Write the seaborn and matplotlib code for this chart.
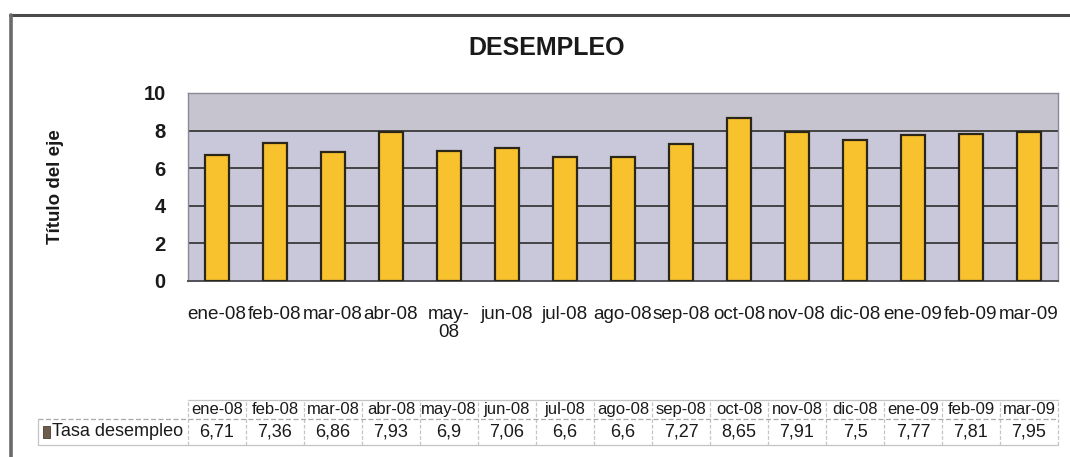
import matplotlib
matplotlib.use("Agg")
import matplotlib.pyplot as plt
from matplotlib.lines import Line2D
from matplotlib.patches import Rectangle
import seaborn as sns
import pandas as pd

# Monthly unemployment rate
months = ["ene-08", "feb-08", "mar-08", "abr-08", "may-08", "jun-08", "jul-08",
          "ago-08", "sep-08", "oct-08", "nov-08", "dic-08", "ene-09", "feb-09", "mar-09"]
rates = [6.71, 7.36, 6.86, 7.93, 6.9, 7.06, 6.6, 6.6, 7.27, 8.65, 7.91, 7.5, 7.77, 7.81, 7.95]
rate_labels = ["6,71", "7,36", "6,86", "7,93", "6,9", "7,06", "6,6", "6,6", "7,27",
               "8,65", "7,91", "7,5", "7,77", "7,81", "7,95"]
series_name = "Tasa desempleo"
y_ticks = [0, 2, 4, 6, 8, 10]

df = pd.DataFrame({"mes": months, "tasa": rates})

sns.set_theme(style="white")
plt.rcParams["font.family"] = ["Liberation Sans", "DejaVu Sans"]

W, H = 1070, 457
fig = plt.figure(figsize=(W / 100, H / 100), dpi=100)
fig.patch.set_facecolor("white")

def fx(px):
    return px / W

def fy(py):
    return 1 - py / H

# Chart frame
fig.add_artist(Line2D([fx(10), fx(1070)], [fy(15), fy(15)], color="#4a4a4a", lw=2.2))
fig.add_artist(Line2D([fx(11), fx(11)], [fy(15), fy(457)], color="#6a6a6a", lw=2.6))

# Bar chart area
left, right, top, bottom = 188, 1058, 93, 281
ax = fig.add_axes([fx(left), fy(bottom), fx(right - left), fy(top) - fy(bottom)])
ax.set_facecolor("#c9c8da")
sns.barplot(data=df, x="mes", y="tasa", ax=ax, color="#f8c22f", width=0.4,
            edgecolor="#2b2618", linewidth=1.6, saturation=1, zorder=3)
ax.set_ylim(0, 10)
ax.set_xlim(-0.5, len(months) - 0.5)
ax.set_yticks(y_ticks)
ax.set_yticklabels([str(t) for t in y_ticks], fontsize=14.5, fontweight="bold", color="#1a1a1a")
for t in y_ticks[1:-1]:
    ax.axhline(t, color="#3a3a3a", lw=1.3, zorder=1)
ax.axhspan(8, 10, color="#c6c5cf", zorder=0.5, lw=0)
ax.tick_params(axis="y", pad=16, length=0)
xlabels = [m if m != "may-08" else "may-\n08" for m in months]
ax.set_xticks(range(len(months)))
ax.set_xticklabels(xlabels, fontsize=13.6, color="#1a1a1a", linespacing=1.05, va="top")
ax.tick_params(axis="x", pad=18, length=0)
ax.set_xlabel("")
ax.set_ylabel("Título del eje", fontsize=13.5, fontweight="bold", color="#1a1a1a", labelpad=0)
ax.yaxis.set_label_coords(fx(64 - left) / fx(right - left), 0.5)
for side, sp in ax.spines.items():
    sp.set_visible(True)
    sp.set_color("#8a8a96")
    sp.set_linewidth(1.0)
ax.spines["bottom"].set_color("#505058")
ax.spines["bottom"].set_linewidth(1.4)

fig.text(fx(547), fy(48), "DESEMPLEO", fontsize=18, fontweight="bold",
         color="#1a1a1a", ha="center", va="center")

# Data table below the chart
t_top, t_mid, t_bot = 400, 419, 445
tax = fig.add_axes([fx(left), fy(t_bot), fx(right - left), fy(t_top) - fy(t_bot)])
tax.set_xlim(-0.5, len(months) - 0.5)
tax.set_ylim(0, 1)
tax.axis("off")
y_mid = (t_bot - t_mid) / (t_bot - t_top)
grid_col = "#c4c4c8"
label_left = -0.5 - (left - 38) * len(months) / (right - left)

for i, (m, lab) in enumerate(zip(months, rate_labels)):
    tax.text(i, (1 + y_mid) / 2, m, ha="center", va="center", fontsize=12, color="#1a1a1a")
    tax.text(i, y_mid / 2, lab, ha="center", va="center", fontsize=13, color="#1a1a1a")
for b in range(len(months) + 1):
    tax.plot([b - 0.5, b - 0.5], [0, 1], color=grid_col, lw=0.9, ls=(0, (3, 1.5)),
             clip_on=False)
tax.plot([-0.5, len(months) - 0.5], [1, 1], color=grid_col, lw=0.9, clip_on=False)
tax.plot([label_left, len(months) - 0.5], [y_mid, y_mid], color="#a8a8b0", lw=0.9,
         ls=(0, (4, 2)), clip_on=False)
tax.plot([label_left, len(months) - 0.5], [0, 0], color=grid_col, lw=0.9, clip_on=False)
tax.plot([label_left, label_left], [0, y_mid], color=grid_col, lw=0.9, clip_on=False)
px = len(months) / (right - left)
tax.add_patch(Rectangle((label_left + 5 * px, y_mid / 2 - 0.13), 7 * px, 0.27,
                        facecolor="#6e5c4c", edgecolor="#4a3c30", lw=0.6, clip_on=False))
tax.text(label_left + 14 * px, y_mid / 2, series_name,
         ha="left", va="center", fontsize=13, color="#1a1a1a")

fig.savefig("out.png", dpi=100, facecolor="white")
